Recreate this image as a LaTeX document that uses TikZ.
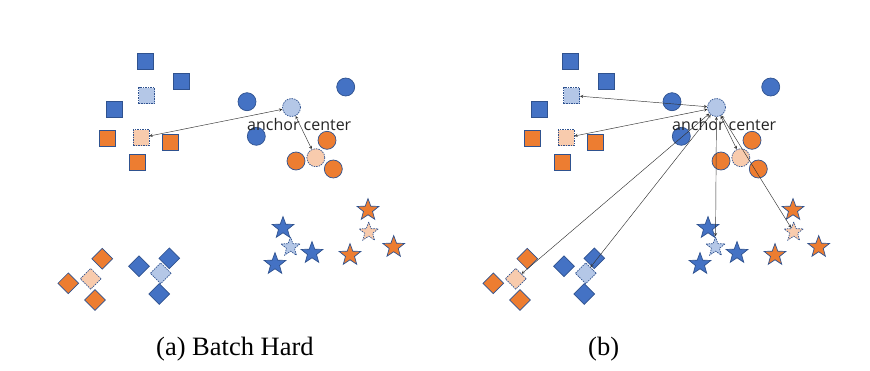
\documentclass[tikz,border=0pt]{standalone}
\usepackage{fontspec}
\setmainfont{Liberation Serif}
\newfontfamily\tagfont{Open Sans}
\usetikzlibrary{arrows,shapes.geometric}
\definecolor{ppblue}{RGB}{68,114,196}
\definecolor{pporange}{RGB}{237,125,49}
\definecolor{ltblue}{RGB}{180,199,231}
\definecolor{ltorange}{RGB}{248,203,173}
\definecolor{rim}{RGB}{47,82,143}

\tikzset{
  pt/.style={draw=rim,line width=0.7pt,inner sep=0pt},
  sq/.style={pt,rectangle,minimum size=16pt},
  ci/.style={pt,circle,minimum size=18pt},
  dm/.style={pt,diamond,minimum size=21pt},
  st/.style={pt,star,star points=5,star point ratio=2.4,minimum size=22.8pt},
  ctr/.style={dash pattern=on 1.5pt off 1pt},
  link/.style={<->,>=stealth,line width=0.45pt,draw=black!80}
}

\begin{document}
\begin{tikzpicture}[x=1pt,y=-1pt]
\useasboundingbox (0,0) rectangle (870,370);

\foreach \dx/\p in {0/a,425/b}{
  % squares
  \node[sq,fill=ppblue] (\p-bsq1) at (145.7+\dx,61.7) {};
  \node[sq,fill=ppblue] (\p-bsq2) at (181.7+\dx,81.7) {};
  \node[sq,fill=ppblue] (\p-bsq3) at (114+\dx,109) {};
  \node[sq,ctr,fill=ltblue] (\p-bsq) at (146.7+\dx,95.5) {};
  \node[sq,fill=pporange] (\p-osq1) at (107.7+\dx,138.7) {};
  \node[sq,fill=pporange] (\p-osq2) at (170.3+\dx,142.7) {};
  \node[sq,fill=pporange] (\p-osq3) at (137.7+\dx,162.7) {};
  \node[sq,ctr,fill=ltorange] (\p-osq) at (141+\dx,137.7) {};
  % circles
  \node[ci,fill=ppblue] (\p-bci1) at (247+\dx,101.7) {};
  \node[ci,fill=ppblue] (\p-bci2) at (345.7+\dx,87) {};
  \node[ci,fill=ppblue] (\p-bci3) at (256.3+\dx,136.3) {};
  \node[ci,ctr,fill=ltblue] (\p-anc) at (291.5+\dx,107.5) {};
  \node[ci,fill=pporange] (\p-oci1) at (327+\dx,140.3) {};
  \node[ci,fill=pporange] (\p-oci2) at (296+\dx,161) {};
  \node[ci,fill=pporange] (\p-oci3) at (333.3+\dx,169) {};
  \node[ci,ctr,fill=ltorange] (\p-oci) at (315.8+\dx,157.7) {};
  % diamonds
  \node[dm,fill=pporange] (\p-odm1) at (102.3+\dx,258.7) {};
  \node[dm,fill=pporange] (\p-odm2) at (68.3+\dx,283.3) {};
  \node[dm,fill=pporange] (\p-odm3) at (95+\dx,300) {};
  \node[dm,ctr,fill=ltorange] (\p-odm) at (90.7+\dx,278.8) {};
  \node[dm,fill=ppblue] (\p-bdm1) at (139+\dx,266.3) {};
  \node[dm,fill=ppblue] (\p-bdm2) at (169.3+\dx,258.3) {};
  \node[dm,fill=ppblue] (\p-bdm3) at (159.3+\dx,294) {};
  \node[dm,ctr,fill=ltblue] (\p-bdm) at (160.7+\dx,273.3) {};
  % stars
  \node[st,fill=ppblue] (\p-bst1) at (283+\dx,228) {};
  \node[st,fill=ppblue] (\p-bst2) at (312+\dx,253) {};
  \node[st,fill=ppblue] (\p-bst3) at (275+\dx,264) {};
  \node[st,ctr,fill=ltblue,minimum size=20pt] (\p-bst) at (290.5+\dx,247) {};
  \node[st,fill=pporange] (\p-ost1) at (368+\dx,210) {};
  \node[st,fill=pporange] (\p-ost2) at (350+\dx,255) {};
  \node[st,fill=pporange] (\p-ost3) at (393.7+\dx,247) {};
  \node[st,ctr,fill=ltorange,minimum size=20pt] (\p-ost) at (368.7+\dx,232) {};

  \node[anchor=west,inner sep=0pt,text=black!85,font=\tagfont\fontsize{16}{18}\selectfont]
    (\p-txt) at (247+\dx,124) {anchor center};
}

\draw[link] (a-anc) -- (a-osq);
\draw[link] (a-anc) -- (a-oci);
\foreach \t in {bsq,osq,oci,odm,bdm,bst,ost}
  \draw[link] (b-anc) -- (b-\t);

\node[anchor=base west,inner sep=0pt,font=\fontsize{26.5}{30}\selectfont] (capa) at (156,355) {(a) Batch Hard};
\node[anchor=base west,inner sep=0pt,font=\fontsize{26.5}{30}\selectfont] (capb) at (588,355) {(b)};
\end{tikzpicture}
\end{document}
